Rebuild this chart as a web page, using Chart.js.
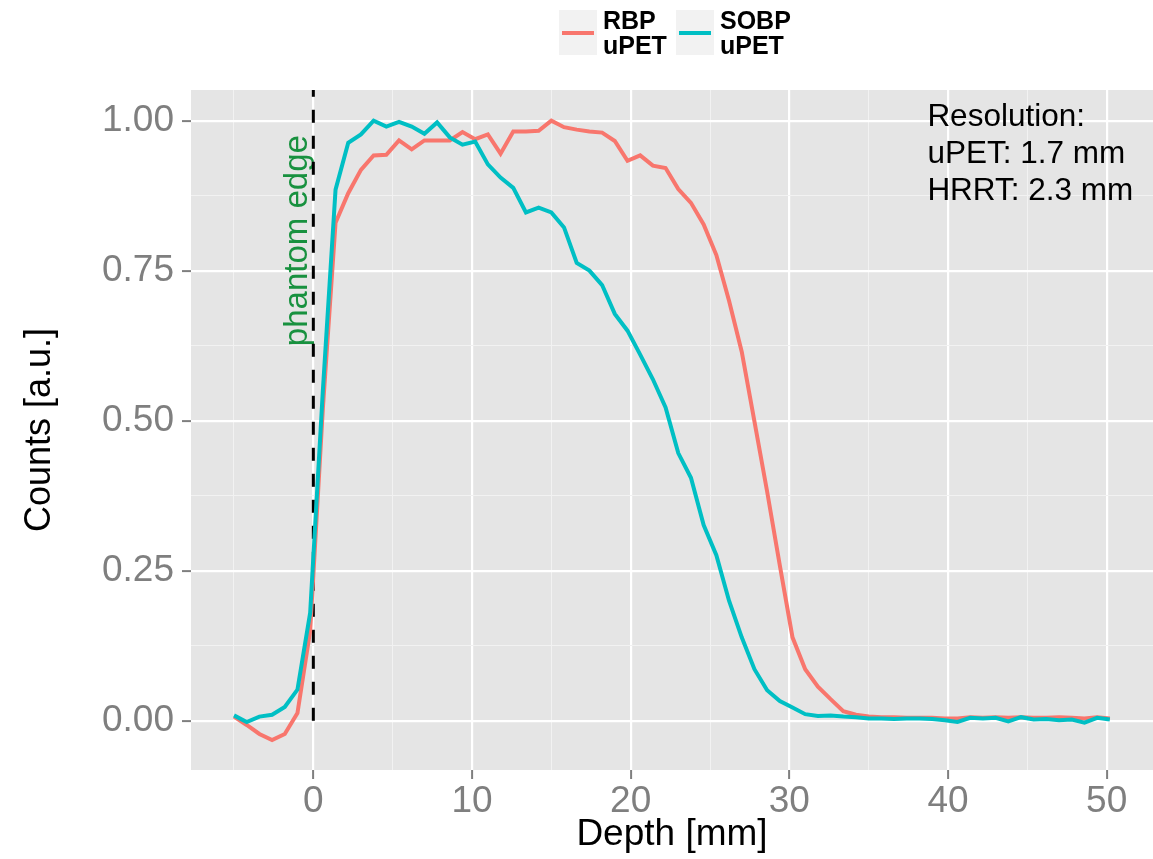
<!DOCTYPE html>
<html>
<head>
<meta charset="utf-8">
<script src="https://cdn.jsdelivr.net/npm/chart.js@4.4.0/dist/chart.umd.min.js"></script>
<style>
    html, body { margin: 0; padding: 0; background: #fff; }
    canvas { display: block; }
</style>
</head>
<body>
<canvas id="depth-chart" width="1153" height="859"></canvas>
<script>
// depth of each sample [mm]
var depth = [
    -5.0, -4.2, -3.4, -2.6, -1.8, -1.0, -0.2, 0.6, 1.4, 2.2,
    3.0, 3.8, 4.6, 5.4, 6.2, 7.0, 7.8, 8.6, 9.4, 10.2,
    11.0, 11.8, 12.6, 13.4, 14.2, 15.0, 15.8, 16.6, 17.4, 18.2,
    19.0, 19.8, 20.6, 21.4, 22.2, 23.0, 23.8, 24.6, 25.4, 26.2,
    27.0, 27.8, 28.6, 29.4, 30.2, 31.0, 31.8, 32.6, 33.4, 34.2,
    35.0, 35.8, 36.6, 37.4, 38.2, 39.0, 39.8, 40.6, 41.4, 42.2,
    43.0, 43.8, 44.6, 45.4, 46.2, 47.0, 47.8, 48.6, 49.4, 50.2
];
var rbpUpet = [
    0.007, -0.007, -0.022, -0.032, -0.022, 0.013, 0.150, 0.520, 0.830, 0.879,
    0.918, 0.942, 0.943, 0.967, 0.952, 0.967, 0.967, 0.967, 0.981, 0.969,
    0.977, 0.945, 0.982, 0.982, 0.983, 1.000, 0.989, 0.985, 0.982, 0.980,
    0.966, 0.933, 0.942, 0.925, 0.921, 0.886, 0.863, 0.827, 0.776, 0.700,
    0.615, 0.499, 0.382, 0.259, 0.139, 0.086, 0.057, 0.036, 0.016, 0.010,
    0.007, 0.006, 0.006, 0.005, 0.005, 0.005, 0.004, 0.004, 0.006, 0.005,
    0.006, 0.005, 0.006, 0.005, 0.005, 0.006, 0.005, 0.004, 0.006, 0.004
];
var sobpUpet = [
    0.009, -0.002, 0.007, 0.010, 0.023, 0.052, 0.180, 0.550, 0.885, 0.963,
    0.977, 1.000, 0.990, 0.998, 0.990, 0.978, 0.997, 0.972, 0.960, 0.965,
    0.927, 0.905, 0.888, 0.847, 0.855, 0.847, 0.822, 0.763, 0.750, 0.726,
    0.678, 0.650, 0.610, 0.569, 0.522, 0.446, 0.405, 0.326, 0.276, 0.200,
    0.139, 0.086, 0.051, 0.033, 0.022, 0.011, 0.008, 0.009, 0.007, 0.006,
    0.004, 0.004, 0.003, 0.004, 0.004, 0.003, 0.001, -0.002, 0.005, 0.004,
    0.005, -0.001, 0.006, 0.002, 0.003, 0.001, 0.002, -0.003, 0.005, 0.002
];
var seriesNames = [['RBP', 'uPET'], ['SOBP', 'uPET']];
var seriesColors = ['#F8766D', '#00BFC4'];

var xTicks = [-5, 0, 5, 10, 15, 20, 25, 30, 35, 40, 45, 50];
var xMajor = [0, 10, 20, 30, 40, 50];
var yTicks = [0, 0.125, 0.25, 0.375, 0.5, 0.625, 0.75, 0.875, 1];
var yMajor = [0, 0.25, 0.5, 0.75, 1];

var phantomEdge = 0;
var resolutionNote = ['Resolution:', 'uPET: 1.7 mm', 'HRRT: 2.3 mm'];

var FONT = '"Liberation Sans", Arial, Helvetica, sans-serif';

function isMajor(v, list) {
    return list.some(function(m) { return Math.abs(m - v) < 1e-6; });
}

function toPoints(ys) {
    return depth.map(function(d, i) { return { x: d, y: ys[i] }; });
}

function gridFor(major) {
    return {
        color: function(c) { return c.tick && isMajor(c.tick.value, major) ? '#FFFFFF' : '#F2F2F2'; },
        lineWidth: function(c) { return c.tick && isMajor(c.tick.value, major) ? 2.2 : 1; },
        tickColor: function(c) { return c.tick && isMajor(c.tick.value, major) ? '#7F7F7F' : 'rgba(0,0,0,0)'; },
        tickWidth: 2,
        tickLength: 9,
        drawTicks: true
    };
}

var ggPanel = {
    id: 'ggPanel',
    beforeDraw: function(chart) {
        var a = chart.chartArea, ctx = chart.ctx;
        ctx.save();
        ctx.fillStyle = '#E5E5E5';
        ctx.fillRect(a.left, a.top, a.right - a.left, a.bottom - a.top);
        ctx.restore();
    },
    beforeDatasetsDraw: function(chart) {
        var ctx = chart.ctx, a = chart.chartArea;
        var xs = chart.scales.x, ys = chart.scales.y;
        var px = xs.getPixelForValue(phantomEdge);

        // phantom edge label
        ctx.save();
        ctx.translate(px - 6, ys.getPixelForValue(0.8));
        ctx.rotate(-Math.PI / 2);
        ctx.font = '33px ' + FONT;
        ctx.fillStyle = '#18913F';
        ctx.textAlign = 'center';
        ctx.textBaseline = 'alphabetic';
        ctx.fillText('phantom edge', 0, 0);
        ctx.restore();

        // dashed vertical line
        ctx.save();
        ctx.strokeStyle = '#000000';
        ctx.lineWidth = 3;
        ctx.setLineDash([13, 13]);
        ctx.beginPath();
        ctx.moveTo(px, ys.getPixelForValue(0));
        ctx.lineTo(px, a.top);
        ctx.stroke();
        ctx.restore();
    },
    afterDraw: function(chart) {
        var ctx = chart.ctx, xs = chart.scales.x;

        // legend on top
        var keyX = [559, 676];
        ctx.save();
        seriesNames.forEach(function(lines, i) {
            ctx.fillStyle = '#F2F2F2';
            ctx.fillRect(keyX[i], 10, 38, 45);
            ctx.strokeStyle = seriesColors[i];
            ctx.lineWidth = 4;
            ctx.beginPath();
            ctx.moveTo(keyX[i] + 3, 33);
            ctx.lineTo(keyX[i] + 35, 33);
            ctx.stroke();
            ctx.fillStyle = '#000000';
            ctx.font = 'bold 25px ' + FONT;
            ctx.textAlign = 'left';
            ctx.textBaseline = 'alphabetic';
            lines.forEach(function(t, j) {
                ctx.fillText(t, keyX[i] + 44, 29 + j * 25);
            });
        });
        ctx.restore();

        // resolution note
        ctx.save();
        ctx.fillStyle = '#000000';
        ctx.font = '31.5px ' + FONT;
        ctx.textAlign = 'left';
        ctx.textBaseline = 'alphabetic';
        var nx = xs.getPixelForValue(38.7);
        resolutionNote.forEach(function(t, j) {
            ctx.fillText(t, nx, 126 + j * 37);
        });
        ctx.restore();
    }
};

new Chart(document.getElementById('depth-chart'), {
    type: 'line',
    data: {
        datasets: [
            {
                label: seriesNames[0].join(' '),
                data: toPoints(rbpUpet),
                borderColor: seriesColors[0],
                borderWidth: 4,
                pointRadius: 0,
                tension: 0,
                fill: false,
                order: 1
            }, {
                label: seriesNames[1].join(' '),
                data: toPoints(sobpUpet),
                borderColor: seriesColors[1],
                borderWidth: 4,
                pointRadius: 0,
                tension: 0,
                fill: false,
                order: 0
            }
        ]
    },
    options: {
        responsive: false,
        animation: false,
        devicePixelRatio: 1,
        layout: { padding: { top: 90, right: 0, bottom: 0, left: 0 } },
        plugins: {
            legend: { display: false },
            tooltip: { enabled: false }
        },
        scales: {
            x: {
                type: 'linear',
                min: -7.71,
                max: 52.92,
                afterBuildTicks: function(s) { s.ticks = xTicks.map(function(v) { return { value: v }; }); },
                afterFit: function(s) { s.height = 89; },
                grid: gridFor(xMajor),
                border: { display: false },
                ticks: {
                    autoSkip: false,
                    maxRotation: 0,
                    padding: 1,
                    color: '#7F7F7F',
                    font: { size: 37, family: FONT },
                    callback: function(v) { return isMajor(v, xMajor) ? String(v) : ''; }
                },
                title: {
                    display: true,
                    text: 'Depth [mm]',
                    color: '#000000',
                    font: { size: 37, family: FONT },
                    padding: { top: 0, bottom: 2 }
                }
            },
            y: {
                type: 'linear',
                min: -0.082,
                max: 1.051,
                afterBuildTicks: function(s) { s.ticks = yTicks.map(function(v) { return { value: v }; }); },
                afterFit: function(s) { s.width = 191; },
                grid: gridFor(yMajor),
                border: { display: false },
                ticks: {
                    autoSkip: false,
                    padding: 8,
                    color: '#7F7F7F',
                    font: { size: 37, family: FONT },
                    callback: function(v) { return isMajor(v, yMajor) ? v.toFixed(2) : ''; }
                },
                title: {
                    display: true,
                    text: 'Counts [a.u.]',
                    color: '#000000',
                    font: { size: 36, family: FONT },
                    padding: { top: 18, bottom: 0 }
                }
            }
        }
    },
    plugins: [ggPanel]
});
</script>
</body>
</html>
